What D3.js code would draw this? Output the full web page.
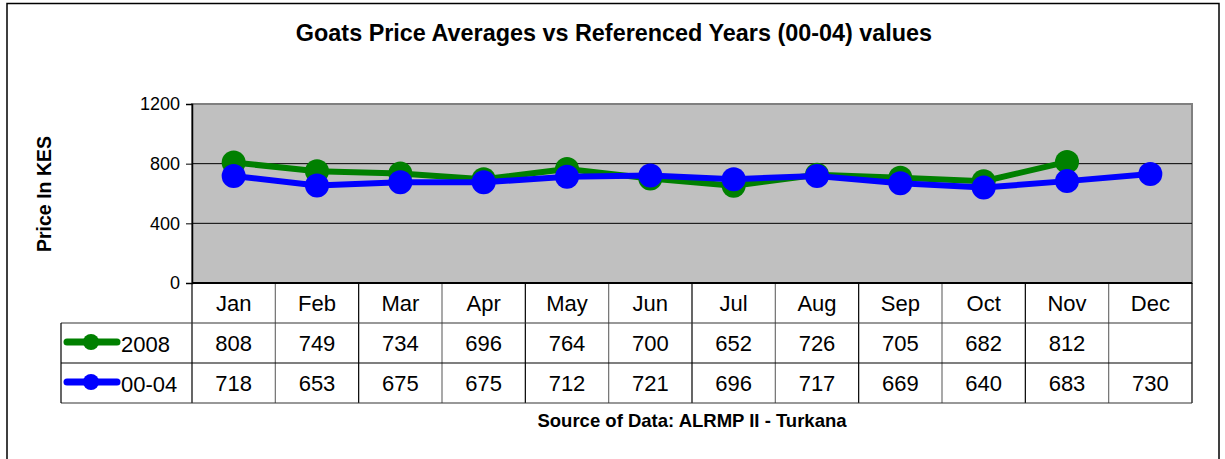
<!DOCTYPE html>
<html>
<head>
<meta charset="utf-8">
<script src="https://cdn.jsdelivr.net/npm/d3@7"></script>
<style>
  body { margin: 0; background: #fff; }
  text { font-family: "Liberation Sans", Arial, sans-serif; }
</style>
</head>
<body>
<svg id="chart" width="1225" height="459"></svg>
<script>
// chart data
var months = ["Jan","Feb","Mar","Apr","May","Jun","Jul","Aug","Sep","Oct","Nov","Dec"];
var series2008 = [808, 749, 734, 696, 764, 700, 652, 726, 705, 682, 812, null];
var series0004 = [718, 653, 675, 675, 712, 721, 696, 717, 669, 640, 683, 730];
var yTicks = [0, 400, 800, 1200];

var seriesList = [
  {name: "2008", values: series2008, color: "#008000"},
  {name: "00-04", values: series0004, color: "#0000FF"}
];

var svg = d3.select("#chart");

// outer frame
svg.append("rect")
  .attr("x", 7).attr("y", 3.5)
  .attr("width", 1212).attr("height", 470)
  .attr("fill", "none").attr("stroke", "#000").attr("stroke-width", 1.5);

var plot = {left: 192, right: 1192, top: 104, bottom: 283};

var x = d3.scaleBand()
  .domain(months)
  .range([plot.left, plot.right]);

var y = d3.scaleLinear()
  .domain([0, 1200])
  .range([plot.bottom, plot.top]);

// title
svg.append("text")
  .attr("x", 614).attr("y", 41)
  .attr("text-anchor", "middle")
  .attr("font-size", "23.4px").attr("font-weight", "bold")
  .text("Goats Price Averages vs Referenced Years (00-04) values");

// plot background
svg.append("rect")
  .attr("x", plot.left).attr("y", plot.top)
  .attr("width", plot.right - plot.left).attr("height", plot.bottom - plot.top)
  .attr("fill", "#C0C0C0").attr("stroke", "#808080").attr("stroke-width", 2);

// gridlines
svg.append("g")
  .selectAll("line")
  .data(yTicks.filter(function(d) { return d > 0 && d < 1200; }))
  .enter().append("line")
  .attr("x1", plot.left).attr("x2", plot.right)
  .attr("y1", function(d) { return y(d); })
  .attr("y2", function(d) { return y(d); })
  .attr("stroke", "#000").attr("stroke-width", 1);

// y axis
var yAxis = svg.append("g")
  .attr("transform", "translate(" + plot.left + ",0)")
  .call(d3.axisLeft(y).tickValues(yTicks).tickFormat(d3.format("d")).tickSize(6).tickPadding(6));
yAxis.select(".domain").attr("stroke", "#000").attr("stroke-width", 1.5);
yAxis.selectAll(".tick line").attr("stroke", "#000");
yAxis.selectAll(".tick text")
  .attr("font-size", "18px")
  .attr("font-family", "Liberation Sans, Arial, sans-serif")
  .attr("fill", "#000");

// y axis title
svg.append("text")
  .attr("transform", "translate(51,194) rotate(-90)")
  .attr("text-anchor", "middle")
  .attr("font-size", "19.5px").attr("font-weight", "bold")
  .text("Price In KES");

// lines and markers
var line = d3.line()
  .defined(function(d) { return d != null; })
  .x(function(d, i) { return x(months[i]) + x.bandwidth() / 2; })
  .y(function(d) { return y(d); });

seriesList.forEach(function(s) {
  svg.append("path")
    .datum(s.values)
    .attr("d", line)
    .attr("fill", "none")
    .attr("stroke", s.color)
    .attr("stroke-width", 6)
    .attr("stroke-linejoin", "round");

  svg.append("g")
    .selectAll("circle")
    .data(s.values.map(function(v, i) { return {m: months[i], v: v}; })
      .filter(function(d) { return d.v != null; }))
    .enter().append("circle")
    .attr("cx", function(d) { return x(d.m) + x.bandwidth() / 2; })
    .attr("cy", function(d) { return y(d.v); })
    .attr("r", 12)
    .attr("fill", s.color);
});

// data table
var rowH = 40;
var tableTop = plot.bottom;
var legendLeft = 61;
var tbl = svg.append("g");

// month header row
tbl.selectAll("text.month")
  .data(months)
  .enter().append("text")
  .attr("class", "month")
  .attr("x", function(d) { return x(d) + x.bandwidth() / 2; })
  .attr("y", tableTop + 28)
  .attr("text-anchor", "middle")
  .attr("font-size", "22px")
  .text(function(d) { return d; });

// vertical cell lines
var xEdges = months.map(function(m) { return x(m); }).concat([plot.right]);
tbl.selectAll("line.v")
  .data(xEdges)
  .enter().append("line")
  .attr("x1", function(d) { return d; })
  .attr("x2", function(d) { return d; })
  .attr("y1", tableTop).attr("y2", tableTop + rowH * 3)
  .attr("stroke", function(d, i) { return i % 2 === 1 ? "#707070" : "#000"; })
  .attr("stroke-width", 1.2);

// horizontal lines
tbl.append("line")
  .attr("x1", plot.left).attr("x2", plot.right)
  .attr("y1", tableTop).attr("y2", tableTop)
  .attr("stroke", "#000").attr("stroke-width", 2);
[1, 2, 3].forEach(function(r) {
  tbl.append("line")
    .attr("x1", legendLeft).attr("x2", plot.right)
    .attr("y1", tableTop + rowH * r).attr("y2", tableTop + rowH * r)
    .attr("stroke", r === 2 ? "#000" : "#333").attr("stroke-width", 1.2);
});
tbl.append("line")
  .attr("x1", legendLeft).attr("x2", legendLeft)
  .attr("y1", tableTop + rowH).attr("y2", tableTop + rowH * 3)
  .attr("stroke", "#000").attr("stroke-width", 1.2);

seriesList.forEach(function(s, r) {
  var cy = tableTop + rowH * (r + 1) + rowH / 2;
  // legend key
  tbl.append("line")
    .attr("x1", legendLeft + 6).attr("x2", legendLeft + 56)
    .attr("y1", cy - 1).attr("y2", cy - 1)
    .attr("stroke", s.color).attr("stroke-width", 7)
    .attr("stroke-linecap", "round");
  tbl.append("circle")
    .attr("cx", legendLeft + 30).attr("cy", cy - 1).attr("r", 8)
    .attr("fill", s.color);
  tbl.append("text")
    .attr("x", legendLeft + 60).attr("y", cy + 9)
    .attr("font-size", "22px")
    .text(s.name);
  // values
  tbl.selectAll("text.v" + r)
    .data(s.values)
    .enter().append("text")
    .attr("class", "v" + r)
    .attr("x", function(d, i) { return x(months[i]) + x.bandwidth() / 2; })
    .attr("y", cy + 8)
    .attr("text-anchor", "middle")
    .attr("font-size", "22px")
    .text(function(d) { return d == null ? "" : d; });
});

// source note
svg.append("text")
  .attr("x", 692).attr("y", 427)
  .attr("text-anchor", "middle")
  .attr("font-size", "18.5px").attr("font-weight", "bold")
  .text("Source of Data: ALRMP II - Turkana");
</script>
</body>
</html>
